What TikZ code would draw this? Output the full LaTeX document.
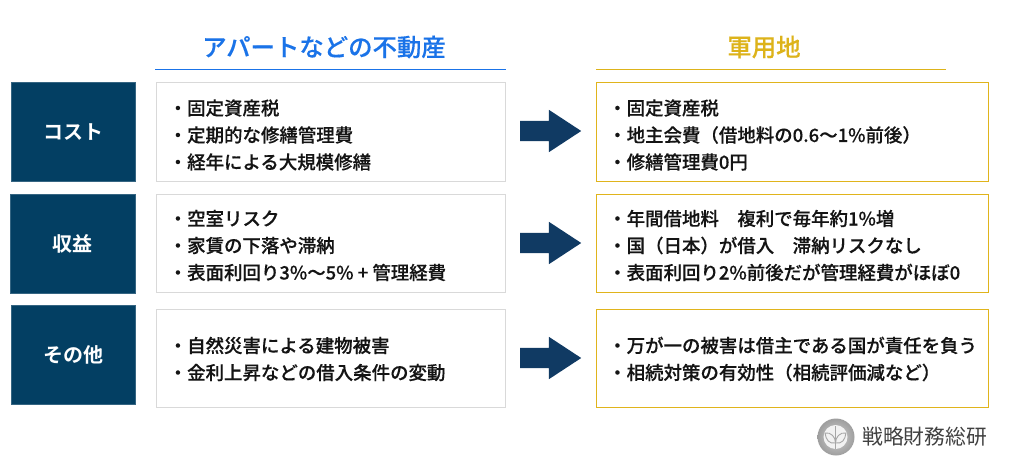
\documentclass[tikz,border=0pt]{standalone}
\usepackage{fontspec}
\usetikzlibrary{shapes.arrows}
\newfontfamily\cjk[FakeBold=0.25]{Noto Sans CJK JP Medium}
\newfontfamily\cjkb{Noto Sans CJK JP Bold}
\newfontfamily\cjkr{Noto Sans CJK JP}
\definecolor{navy}{HTML}{033F63}
\definecolor{arrowblue}{HTML}{103A63}
\definecolor{headblue}{HTML}{1A73E8}
\definecolor{gold}{HTML}{E0B41C}
\definecolor{headgold}{HTML}{DDB31A}
\definecolor{greyline}{HTML}{D9D9D9}
\definecolor{inktext}{HTML}{141414}
\tikzset{
 x=1pt,y=-1pt,
 catbox/.style={fill=navy,draw=navy!80,line width=.5pt,text=white,inner sep=0pt,font=\cjkb\fontsize{20}{20}\selectfont},
 leftbox/.style={draw=greyline,line width=1pt,fill=white},
 rightbox/.style={draw=gold,line width=1pt,fill=white},
 body/.style={anchor=west,inner sep=0pt,text=inktext,font=\cjk\fontsize{18.45}{27}\selectfont,align=left},
 title/.style={inner sep=0pt,font=\cjk\fontsize{24.4}{24.4}\selectfont},
 blockarrow/.style={single arrow,fill=arrowblue,draw=none,inner sep=0pt,minimum height=61pt,single arrow head extend=11pt,single arrow tip angle=66.5,single arrow head indent=0pt,anchor=west},
}
\begin{document}
\begin{tikzpicture}
\useasboundingbox (0,0) rectangle (1024,473);
\fill[white] (0,0) rectangle (1024,473);
\node[title,text=headblue] (h1) at (324,47) {アパートなどの不動産};
\node[title,text=headgold] (h2) at (764,47) {軍用地};
\coordinate (l1a) at (155,69.5); \coordinate (l1b) at (506,69.5);
\coordinate (l2a) at (596,69.5); \coordinate (l2b) at (946,69.5);
\draw[headblue,line width=1.2pt] (l1a) -- (l1b);
\draw[headgold,line width=1.5pt] (l2a) -- (l2b);
% row 1
\node[catbox,minimum width=124pt,minimum height=99pt] (c1) at (73,132) {コスト};
\node[leftbox,minimum width=349pt,minimum height=98pt] (a1) at (330.5,132) {};
\node[rightbox,minimum width=392pt,minimum height=98pt] (b1) at (792,132) {};
\node[blockarrow] (r1) at (520,131) {\rule{0pt}{20pt}};
\node[body] (ta1) at (168.5,135) {・固定資産税\\・定期的な修繕管理費\\・経年による大規模修繕};
\node[body] (tb1) at (608,135) {・固定資産税\\・地主会費（借地料の0.6～1\%前後）\\・修繕管理費0円};
% row 2
\node[catbox,minimum width=125pt,minimum height=99pt] (c2) at (72.5,243.5) {収益};
\node[leftbox,minimum width=349pt,minimum height=98pt] (a2) at (330.5,243.5) {};
\node[rightbox,minimum width=392pt,minimum height=98pt] (b2) at (792,243.5) {};
\node[blockarrow] (r2) at (520,243) {\rule{0pt}{20pt}};
\node[body] (ta2) at (168.5,245.5) {・空室リスク\\・家賃の下落や滞納\\・表面利回り3\%～5\% + 管理経費};
\node[body] (tb2) at (608,245.5) {・年間借地料　複利で毎年約1\%増\\・国（日本）が借入　滞納リスクなし\\・表面利回り2\%前後だが管理経費がほぼ0};
% row 3
\node[catbox,minimum width=124pt,minimum height=99pt] (c3) at (73,355) {その他};
\node[leftbox,minimum width=349pt,minimum height=98pt] (a3) at (330.5,358) {};
\node[rightbox,minimum width=392pt,minimum height=98pt] (b3) at (792,358) {};
\node[blockarrow] (r3) at (520,358) {\rule{0pt}{20pt}};
\node[body] (ta3) at (168.5,359) {・自然災害による建物被害\\・金利上昇などの借入条件の変動};
\node[body] (tb3) at (608,359) {・万が一の被害は借主である国が責任を負う\\・相続対策の有効性（相続評価減など）};
% logo
\shade[inner color=black!18,outer color=black!38] (817.5,437) arc[start angle=180,end angle=-180,radius=18.5];
\fill[black!5] (835.5,437) circle[radius=12];
\draw[black!35,line width=.9pt] (835.5,426) -- (835.5,449);
\draw[black!35,line width=.9pt] (835.5,443) .. controls (829,444) and (826,440) .. (825,433) .. controls (831,432) and (835.5,437) .. (835.5,443);
\draw[black!35,line width=.9pt] (835.5,443) .. controls (842,444) and (845,440) .. (846,433) .. controls (840,432) and (835.5,437) .. (835.5,443);
\node[inner sep=0pt,anchor=west,text=black!75,font=\cjkr\fontsize{20.8}{21}\selectfont] (lt) at (862,437) {戦略財務総研};
\end{tikzpicture}
\end{document}
